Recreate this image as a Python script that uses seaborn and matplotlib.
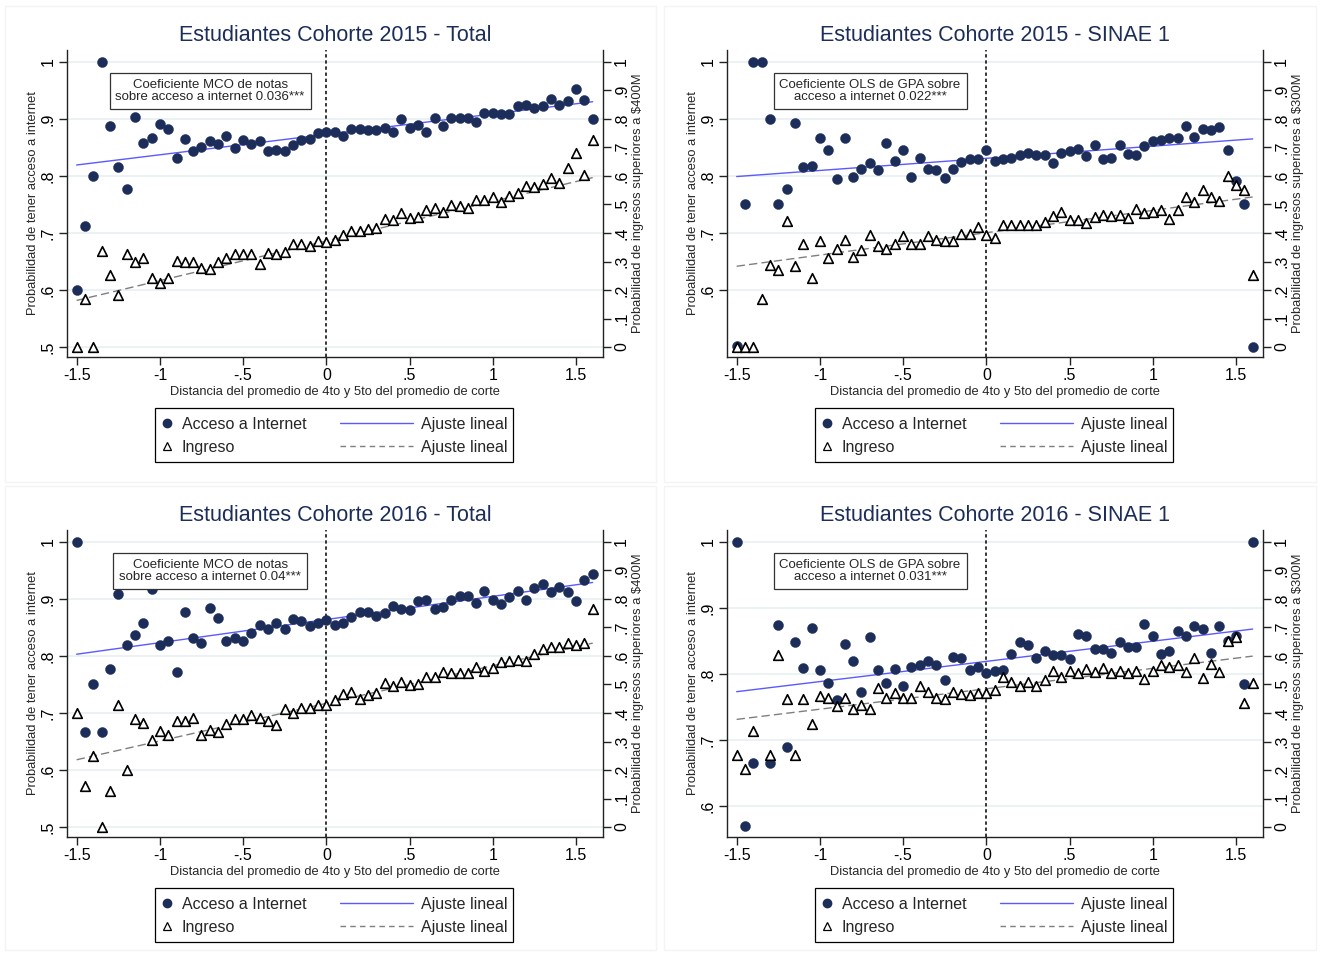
import numpy as np
import seaborn as sns
import matplotlib.pyplot as plt
from matplotlib.lines import Line2D
from matplotlib.patches import Rectangle

# bin centres of the running variable (distance to cutoff)
x_bins = np.round(np.linspace(-1.5, 1.6, 63), 2)

titles = ["Estudiantes Cohorte 2015 - Total", "Estudiantes Cohorte 2015 - SINAE 1",
          "Estudiantes Cohorte 2016 - Total", "Estudiantes Cohorte 2016 - SINAE 1"]
notes = ["Coeficiente MCO de notas\nsobre acceso a internet 0.036***",
         "Coeficiente OLS de GPA sobre\nacceso a internet 0.022***",
         "Coeficiente MCO de notas\nsobre acceso a internet 0.04***",
         "Coeficiente OLS de GPA sobre\nacceso a internet 0.031***"]
income_labels = ["Probabilidad de ingresos superiores a \\$400M",
                 "Probabilidad de ingresos superiores a \\$300M",
                 "Probabilidad de ingresos superiores a \\$400M",
                 "Probabilidad de ingresos superiores a \\$300M"]
x_ticks = [-1.5, -1, -0.5, 0, 0.5, 1, 1.5]
x_ticklabels = ["-1.5", "-1", "-.5", "0", ".5", "1", "1.5"]

internet_2015_total = [
    0.600, 0.713, 0.800, 1.000, 0.888, 0.815, 0.778, 0.904, 0.858, 0.867,
    0.891, 0.882, 0.832, 0.865, 0.843, 0.851, 0.861, 0.856, 0.871, 0.849,
    0.864, 0.856, 0.861, 0.844, 0.846, 0.843, 0.854, 0.864, 0.865, 0.876,
    0.877, 0.877, 0.871, 0.882, 0.883, 0.880, 0.881, 0.884, 0.878, 0.900,
    0.885, 0.889, 0.878, 0.902, 0.888, 0.902, 0.902, 0.902, 0.895, 0.911,
    0.911, 0.909, 0.909, 0.922, 0.924, 0.920, 0.922, 0.935, 0.925, 0.931,
    0.952, 0.933, 0.900]
income_2015_total = [
    0.000, 0.167, 0.000, 0.336, 0.251, 0.184, 0.325, 0.300, 0.312, 0.241,
    0.225, 0.242, 0.303, 0.300, 0.300, 0.277, 0.273, 0.300, 0.311, 0.327,
    0.327, 0.327, 0.292, 0.331, 0.327, 0.333, 0.363, 0.363, 0.356, 0.373,
    0.367, 0.377, 0.394, 0.406, 0.406, 0.413, 0.418, 0.448, 0.444, 0.470,
    0.453, 0.455, 0.482, 0.488, 0.473, 0.497, 0.495, 0.489, 0.517, 0.517,
    0.525, 0.508, 0.531, 0.540, 0.564, 0.561, 0.573, 0.593, 0.577, 0.627,
    0.681, 0.602, 0.725]

internet_2015_sinae = [
    0.501, 0.750, 1.000, 1.000, 0.900, 0.750, 0.778, 0.893, 0.816, 0.817,
    0.867, 0.846, 0.794, 0.867, 0.798, 0.813, 0.822, 0.811, 0.858, 0.827,
    0.846, 0.798, 0.832, 0.813, 0.811, 0.796, 0.813, 0.824, 0.829, 0.829,
    0.846, 0.827, 0.829, 0.832, 0.837, 0.841, 0.837, 0.837, 0.823, 0.840,
    0.844, 0.847, 0.835, 0.854, 0.830, 0.832, 0.855, 0.839, 0.836, 0.853,
    0.861, 0.864, 0.867, 0.867, 0.888, 0.868, 0.882, 0.880, 0.886, 0.845,
    0.792, 0.750, 0.500]
income_2015_sinae = [
    0.000, 0.000, 0.000, 0.170, 0.289, 0.269, 0.441, 0.283, 0.363, 0.242,
    0.371, 0.312, 0.343, 0.377, 0.316, 0.339, 0.392, 0.353, 0.345, 0.363,
    0.388, 0.363, 0.360, 0.388, 0.377, 0.372, 0.371, 0.398, 0.398, 0.421,
    0.394, 0.384, 0.429, 0.429, 0.429, 0.429, 0.427, 0.439, 0.460, 0.474,
    0.444, 0.444, 0.435, 0.456, 0.464, 0.458, 0.462, 0.453, 0.485, 0.470,
    0.474, 0.480, 0.450, 0.480, 0.525, 0.509, 0.552, 0.526, 0.513, 0.599,
    0.570, 0.550, 0.254]

internet_2016_total = [
    1.000, 0.667, 0.750, 0.667, 0.778, 0.909, 0.819, 0.837, 0.857, 0.917,
    0.820, 0.826, 0.772, 0.877, 0.832, 0.822, 0.885, 0.867, 0.826, 0.832,
    0.826, 0.840, 0.854, 0.847, 0.857, 0.848, 0.865, 0.861, 0.853, 0.857,
    0.863, 0.854, 0.857, 0.868, 0.878, 0.877, 0.870, 0.876, 0.887, 0.883,
    0.880, 0.896, 0.898, 0.883, 0.886, 0.898, 0.906, 0.906, 0.893, 0.914,
    0.898, 0.892, 0.904, 0.914, 0.899, 0.920, 0.927, 0.912, 0.921, 0.912,
    0.896, 0.933, 0.944]
income_2016_total = [
    0.401, 0.143, 0.249, 0.000, 0.125, 0.429, 0.201, 0.380, 0.365, 0.304,
    0.336, 0.322, 0.372, 0.372, 0.382, 0.324, 0.342, 0.333, 0.363, 0.380,
    0.378, 0.392, 0.382, 0.372, 0.359, 0.414, 0.400, 0.418, 0.418, 0.427,
    0.429, 0.444, 0.468, 0.474, 0.450, 0.464, 0.470, 0.506, 0.496, 0.508,
    0.499, 0.503, 0.526, 0.526, 0.544, 0.542, 0.540, 0.540, 0.561, 0.547,
    0.559, 0.578, 0.581, 0.585, 0.582, 0.608, 0.626, 0.632, 0.632, 0.646,
    0.637, 0.646, 0.766]

internet_2016_sinae = [
    1.000, 0.569, 0.665, np.nan, 0.665, 0.874, 0.690, 0.849, 0.809, 0.870,
    0.806, 0.787, 0.761, 0.846, 0.820, 0.772, 0.856, 0.806, 0.787, 0.807,
    0.782, 0.811, 0.814, 0.820, 0.814, 0.791, 0.826, 0.824, 0.806, 0.810,
    0.801, 0.805, 0.806, 0.830, 0.848, 0.844, 0.824, 0.835, 0.829, 0.829,
    0.822, 0.860, 0.857, 0.838, 0.838, 0.832, 0.849, 0.841, 0.841, 0.875,
    0.858, 0.830, 0.834, 0.865, 0.857, 0.872, 0.868, 0.832, 0.873, 0.850,
    0.857, 0.784, 1.000]
income_2016_sinae = [
    0.253, 0.204, 0.337, np.nan, 0.253, 0.604, 0.448, 0.253, 0.448, 0.360,
    0.461, 0.454, 0.425, 0.454, 0.414, 0.428, 0.414, 0.487, 0.451, 0.469,
    0.451, 0.451, 0.496, 0.473, 0.451, 0.449, 0.473, 0.465, 0.463, 0.471,
    0.469, 0.481, 0.527, 0.510, 0.495, 0.508, 0.496, 0.516, 0.549, 0.527,
    0.547, 0.539, 0.553, 0.545, 0.557, 0.539, 0.547, 0.542, 0.547, 0.519,
    0.547, 0.568, 0.563, 0.568, 0.545, 0.594, 0.522, 0.572, 0.545, 0.653,
    0.668, 0.434, 0.504]

# linear fits (intercept, slope)
fit_internet = [(0.873, 0.0358), (0.831, 0.0213), (0.864, 0.0406), (0.819, 0.0306)]
fit_income = [(0.372, 0.139), (0.401, 0.0784), (0.434, 0.132), (0.485, 0.0716)]

internet_series = [internet_2015_total, internet_2015_sinae, internet_2016_total, internet_2016_sinae]
income_series = [income_2015_total, income_2015_sinae, income_2016_total, income_2016_sinae]
left_ticks = [[0.5, 0.6, 0.7, 0.8, 0.9, 1.0], [0.6, 0.7, 0.8, 0.9, 1.0],
              [0.5, 0.6, 0.7, 0.8, 0.9, 1.0], [0.6, 0.7, 0.8, 0.9, 1.0]]
left_lims = [(0.4825, 1.021), (0.4825, 1.021), (0.4825, 1.021), (0.553, 1.018)]

sns.set_style("white")
plt.rcParams['font.family'] = ['Liberation Sans', 'DejaVu Sans']

NAVY = '#1c2d5a'
BLUE = '#5a5aff'
GRAY = '#7f7f7f'
AXC = '#222222'
W, H = 1321, 956

fig = plt.figure(figsize=(W / 100, H / 100), dpi=100)
fig.patch.set_facecolor('white')

# (left, top, right, bottom) in pixels for each plot region
boxes = [(67, 50, 603, 357), (727, 50, 1263, 357), (67, 530, 603, 837), (727, 530, 1263, 837)]
frames = [(5, 6, 656, 482), (664, 6, 1316, 482), (5, 486, 656, 950), (664, 486, 1316, 950)]

for fx0, fy0, fx1, fy1 in frames:
    fig.add_artist(Rectangle((fx0 / W, 1 - fy1 / H), (fx1 - fx0) / W, (fy1 - fy0) / H,
                             transform=fig.transFigure, fill=False, ec='#f4f4f4', lw=1))


def stata_fmt(v):
    s = f"{v:g}"
    if s.startswith("0."):
        s = s[1:]
    if s.startswith("-0."):
        s = "-" + s[2:]
    return s


for i in range(4):
    l, t, r, b = boxes[i]
    ax = fig.add_axes([l / W, 1 - b / H, (r - l) / W, (b - t) / H])
    ax2 = ax.twinx()
    xs = np.array([-1.5, 1.6])

    ax.grid(axis='y', color='#e8f0f2', lw=1.2)
    ax.set_axisbelow(True)
    ax.axvline(0, color='black', ls=(0, (2.2, 1.8)), lw=1.1, zorder=1)
    sns.lineplot(x=xs, y=fit_internet[i][0] + fit_internet[i][1] * xs, ax=ax,
                 color=BLUE, lw=1, zorder=2)
    sns.scatterplot(x=x_bins, y=internet_series[i], ax=ax, color=NAVY, s=52,
                    edgecolor=NAVY, linewidth=0.3, zorder=3)

    sns.lineplot(x=xs, y=fit_income[i][0] + fit_income[i][1] * xs, ax=ax2,
                 color=GRAY, lw=1, linestyle=(0, (6, 3)), zorder=2)
    sns.scatterplot(x=x_bins, y=income_series[i], ax=ax2, marker='^', s=48,
                    color='white', edgecolor='black', linewidth=1.2, zorder=3)

    ax.set_xlim(-1.558, 1.662)
    ax.set_ylim(*left_lims[i])
    ax2.set_ylim(-0.035, 1.042)
    ax.set_xticks(x_ticks)
    ax.set_xticklabels(x_ticklabels)
    ax.set_yticks(left_ticks[i])
    ax.set_yticklabels([stata_fmt(v) for v in left_ticks[i]])
    rt = [k / 10 for k in range(11)]
    ax2.set_yticks(rt)
    ax2.set_yticklabels([stata_fmt(v) for v in rt])

    for a in (ax, ax2):
        a.tick_params(axis='both', which='major', direction='out', length=6, width=1,
                      color=AXC, labelsize=11.5, pad=2, labelcolor='black')
        a.spines['top'].set_visible(False)
        for sp in a.spines.values():
            sp.set_color(AXC)
            sp.set_linewidth(1)
    ax.tick_params(axis='y', labelrotation=90, left=True)
    ax.tick_params(axis='x', bottom=True)
    ax2.tick_params(axis='y', labelrotation=90, right=True)
    for lab in ax.get_yticklabels() + ax2.get_yticklabels():
        lab.set_va('center')
    ax.spines['right'].set_visible(False)
    ax2.spines['left'].set_visible(False)
    ax2.spines['bottom'].set_visible(False)
    ax2.grid(False)

    ax.set_xlabel("Distancia del promedio de 4to y 5to del promedio de corte", fontsize=9.3)
    ax.xaxis.set_label_coords(0.5, -0.093)
    ax.set_ylabel("Probabilidad de tener acceso a internet", fontsize=9.3)
    ax.yaxis.set_label_coords(-0.053, 0.5)
    ax2.set_ylabel(income_labels[i], fontsize=9.3)
    ax2.yaxis.set_label_coords(1.054, 0.5)

    ax.text(0.5, 1.046, titles[i], transform=ax.transAxes, ha='center', va='center',
            fontsize=15.5, color=NAVY)
    ax2.text(0.267, 0.866, notes[i], transform=ax.transAxes, ha='center', va='center',
             fontsize=9.5, linespacing=1.0, zorder=10,
             bbox=dict(boxstyle='square,pad=0.45', fc='white', ec='#333333', lw=0.9))

    # legend: two frameless columns inside one drawn box
    pw, ph = r - l, b - t
    fx = lambda px: (px - l) / pw
    fy = lambda py: (b - py) / ph
    ax2.add_patch(Rectangle((fx(l + 88), fy(t + 412)), (358) / pw, (54) / ph,
                            transform=ax.transAxes, fill=False, ec='black', lw=0.9,
                            clip_on=False, zorder=5))
    marker_handles = [Line2D([], [], marker='o', color=NAVY, ls='none', ms=6),
                      Line2D([], [], marker='^', mfc='white', mec='black', ls='none',
                             ms=6, mew=0.9)]
    line_handles = [Line2D([], [], color=BLUE, lw=1),
                    Line2D([], [], color=GRAY, lw=1, ls=(0, (4, 3)))]
    leg1 = ax2.legend(marker_handles, ["Acceso a Internet", "Ingreso"], loc='upper left',
                      bbox_to_anchor=(fx(l + 94), fy(t + 367)), frameon=False,
                      fontsize=11.5, handlelength=0.8, handletextpad=0.5,
                      borderpad=0, borderaxespad=0, labelspacing=0.5)
    ax2.add_artist(leg1)
    ax2.legend(line_handles, ["Ajuste lineal", "Ajuste lineal"], loc='upper left',
               bbox_to_anchor=(fx(l + 273), fy(t + 367)), frameon=False,
               fontsize=11.5, handlelength=4.6, handletextpad=0.5,
               borderpad=0, borderaxespad=0, labelspacing=0.5)

fig.savefig("out.png", dpi=100, facecolor='white')
